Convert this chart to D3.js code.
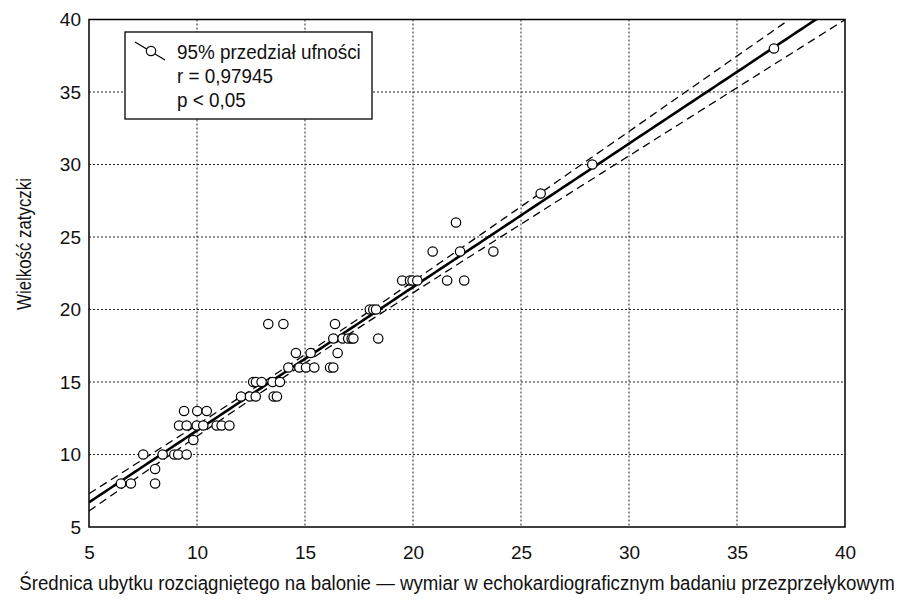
<!DOCTYPE html>
<html>
<head>
<meta charset="utf-8">
<script src="https://cdn.jsdelivr.net/npm/d3@7"></script>
<style>
  body { margin: 0; background: #fff; }
  text { font-family: "Liberation Sans", Arial, sans-serif; fill: #111; }
</style>
</head>
<body>
<div id="chart"></div>
<script>
// measured points: balloon-stretched defect diameter (x) vs plug size (y)
var xVals = [6.48, 6.94, 8.06, 8.06,
             7.51, 8.41, 8.95, 9.13, 9.52,
             9.83,
             9.17, 9.52, 9.99, 10.29, 10.91, 11.14, 11.5,
             9.40, 10.01, 10.45,
             12.04, 12.45, 12.72, 13.55, 13.70,
             12.60, 12.73, 12.99, 13.50, 13.84,
             14.23, 14.74, 15.05, 15.43, 16.16, 16.31,
             14.58, 15.26, 16.51,
             16.31, 16.74, 17.00, 17.16, 17.24, 18.39,
             13.30, 14.00, 16.39,
             18.00, 18.16, 18.29,
             19.50, 19.86, 19.98, 20.20, 21.58, 22.37,
             20.91, 22.18, 23.72,
             21.99, 25.91, 28.30, 36.71];
var yVals = [8, 8, 8, 9,
             10, 10, 10, 10, 10,
             11,
             12, 12, 12, 12, 12, 12, 12,
             13, 13, 13,
             14, 14, 14, 14, 14,
             15, 15, 15, 15, 15,
             16, 16, 16, 16, 16, 16,
             17, 17, 17,
             18, 18, 18, 18, 18, 18,
             19, 19, 19,
             20, 20, 20,
             22, 22, 22, 22, 22, 22,
             24, 24, 24,
             26, 28, 30, 38];
var xTicks = [5, 10, 15, 20, 25, 30, 35, 40];
var yTicks = [5, 10, 15, 20, 25, 30, 35, 40];
var legendLines = ["95% przedział ufności", "r = 0,97945", "p < 0,05"];
var xTitle = "Średnica ubytku rozciągniętego na balonie — wymiar w echokardiograficznym badaniu przezprzełykowym";
var yTitle = "Wielkość zatyczki";

var margin = {top: 19.5, right: 69, bottom: 75, left: 89},
    width = 914 - margin.left - margin.right,
    height = 602 - margin.top - margin.bottom;

var x = d3.scaleLinear().domain([5, 40]).range([0, width]);
var y = d3.scaleLinear().domain([5, 40]).range([height, 0]);

var svg = d3.select("#chart").append("svg")
    .attr("width", 914)
    .attr("height", 602)
  .append("g")
    .attr("transform", "translate(" + margin.left + "," + margin.top + ")");

svg.append("clipPath").attr("id", "clip")
  .append("rect").attr("width", width).attr("height", height);

// grid
svg.append("g").selectAll("line")
    .data(xTicks.slice(1, -1))
  .enter().append("line")
    .attr("x1", function(d) { return x(d); }).attr("x2", function(d) { return x(d); })
    .attr("y1", 0).attr("y2", height)
    .attr("stroke", "#222").attr("stroke-width", 1).attr("stroke-dasharray", "2,2");
svg.append("g").selectAll("line")
    .data(yTicks.slice(1, -1))
  .enter().append("line")
    .attr("y1", function(d) { return y(d); }).attr("y2", function(d) { return y(d); })
    .attr("x1", 0).attr("x2", width)
    .attr("stroke", "#222").attr("stroke-width", 1).attr("stroke-dasharray", "2,2");

// regression + 95% confidence band of the mean
var n = xVals.length;
var mx = d3.mean(xVals), my = d3.mean(yVals);
var sxx = d3.sum(xVals, function(v) { return (v - mx) * (v - mx); });
var sxy = d3.sum(xVals, function(v, i) { return (v - mx) * (yVals[i] - my); });
var slope = sxy / sxx, intercept = my - slope * mx;
var sse = d3.sum(xVals, function(v, i) { var e = yVals[i] - (intercept + slope * v); return e * e; });
var se = Math.sqrt(sse / (n - 2));
var tCrit = 2.0;

var xs = d3.range(5, 40.01, 0.25);
function band(sign) {
  return xs.map(function(v) {
    var h = tCrit * se * Math.sqrt(1 / n + (v - mx) * (v - mx) / sxx);
    return [v, intercept + slope * v + sign * h];
  });
}
var line = d3.line()
    .x(function(d) { return x(d[0]); })
    .y(function(d) { return y(d[1]); });

var fit = svg.append("g").attr("clip-path", "url(#clip)");
fit.append("path")
    .datum(xs.map(function(v) { return [v, intercept + slope * v]; }))
    .attr("d", line).attr("fill", "none")
    .attr("stroke", "#000").attr("stroke-width", 2.6);
[1, -1].forEach(function(s) {
  fit.append("path")
      .datum(band(s))
      .attr("d", line).attr("fill", "none")
      .attr("stroke", "#000").attr("stroke-width", 1.3)
      .attr("stroke-dasharray", "8,5");
});

// points
svg.append("g").selectAll("circle")
    .data(xVals)
  .enter().append("circle")
    .attr("cx", function(d) { return x(d); })
    .attr("cy", function(d, i) { return y(yVals[i]); })
    .attr("r", 4.7)
    .attr("fill", "#fff")
    .attr("stroke", "#000")
    .attr("stroke-width", 1.2);

// frame
svg.append("rect")
    .attr("width", width).attr("height", height)
    .attr("fill", "none").attr("stroke", "#000").attr("stroke-width", 1.5);

// axes labels
var xAxis = svg.append("g")
    .attr("transform", "translate(0," + height + ")")
    .call(d3.axisBottom(x).tickValues(xTicks).tickSize(0).tickPadding(19));
xAxis.select(".domain").remove();
xAxis.selectAll("text").style("font-size", "19px").attr("fill", "#111");

var yAxis = svg.append("g")
    .call(d3.axisLeft(y).tickValues(yTicks).tickSize(0).tickPadding(8));
yAxis.select(".domain").remove();
yAxis.selectAll("text").style("font-size", "19px").attr("fill", "#111");

// titles: condensed look, squeezed horizontally to the reference widths
function squeeze(t, cx, cy, rot, target) {
  var k = target / t.node().getComputedTextLength();
  t.attr("transform", "translate(" + cx + "," + cy + ")rotate(" + rot + ")scale(" + k + ",1)");
}
var xt = svg.append("text")
    .style("text-anchor", "middle")
    .style("font-size", "21px")
    .text(xTitle);
squeeze(xt, 457 - margin.left, 590 - margin.top, 0, 876);

var yt = svg.append("text")
    .style("text-anchor", "middle")
    .style("font-size", "21px")
    .text(yTitle);
squeeze(yt, 31 - margin.left, 244 - margin.top, -90, 132);

// legend
var lg = svg.append("g").attr("transform", "translate(" + (125 - margin.left) + "," + (32 - margin.top) + ")");
lg.append("rect").attr("width", 247).attr("height", 87)
    .attr("fill", "#fff").attr("stroke", "#000").attr("stroke-width", 1.3);
lg.append("line").attr("x1", 10).attr("y1", 10).attr("x2", 40).attr("y2", 28)
    .attr("stroke", "#000").attr("stroke-width", 1.2);
lg.append("circle").attr("cx", 26).attr("cy", 19).attr("r", 4.7)
    .attr("fill", "#fff").attr("stroke", "#000").attr("stroke-width", 1.2);
lg.selectAll("text.leg")
    .data(legendLines)
  .enter().append("text")
    .attr("class", "leg")
    .attr("transform", function(d, i) { return "translate(52," + (27.3 + i * 24) + ")scale(0.9,1)"; })
    .style("font-size", "21px")
    .text(function(d) { return d; });
</script>
</body>
</html>
